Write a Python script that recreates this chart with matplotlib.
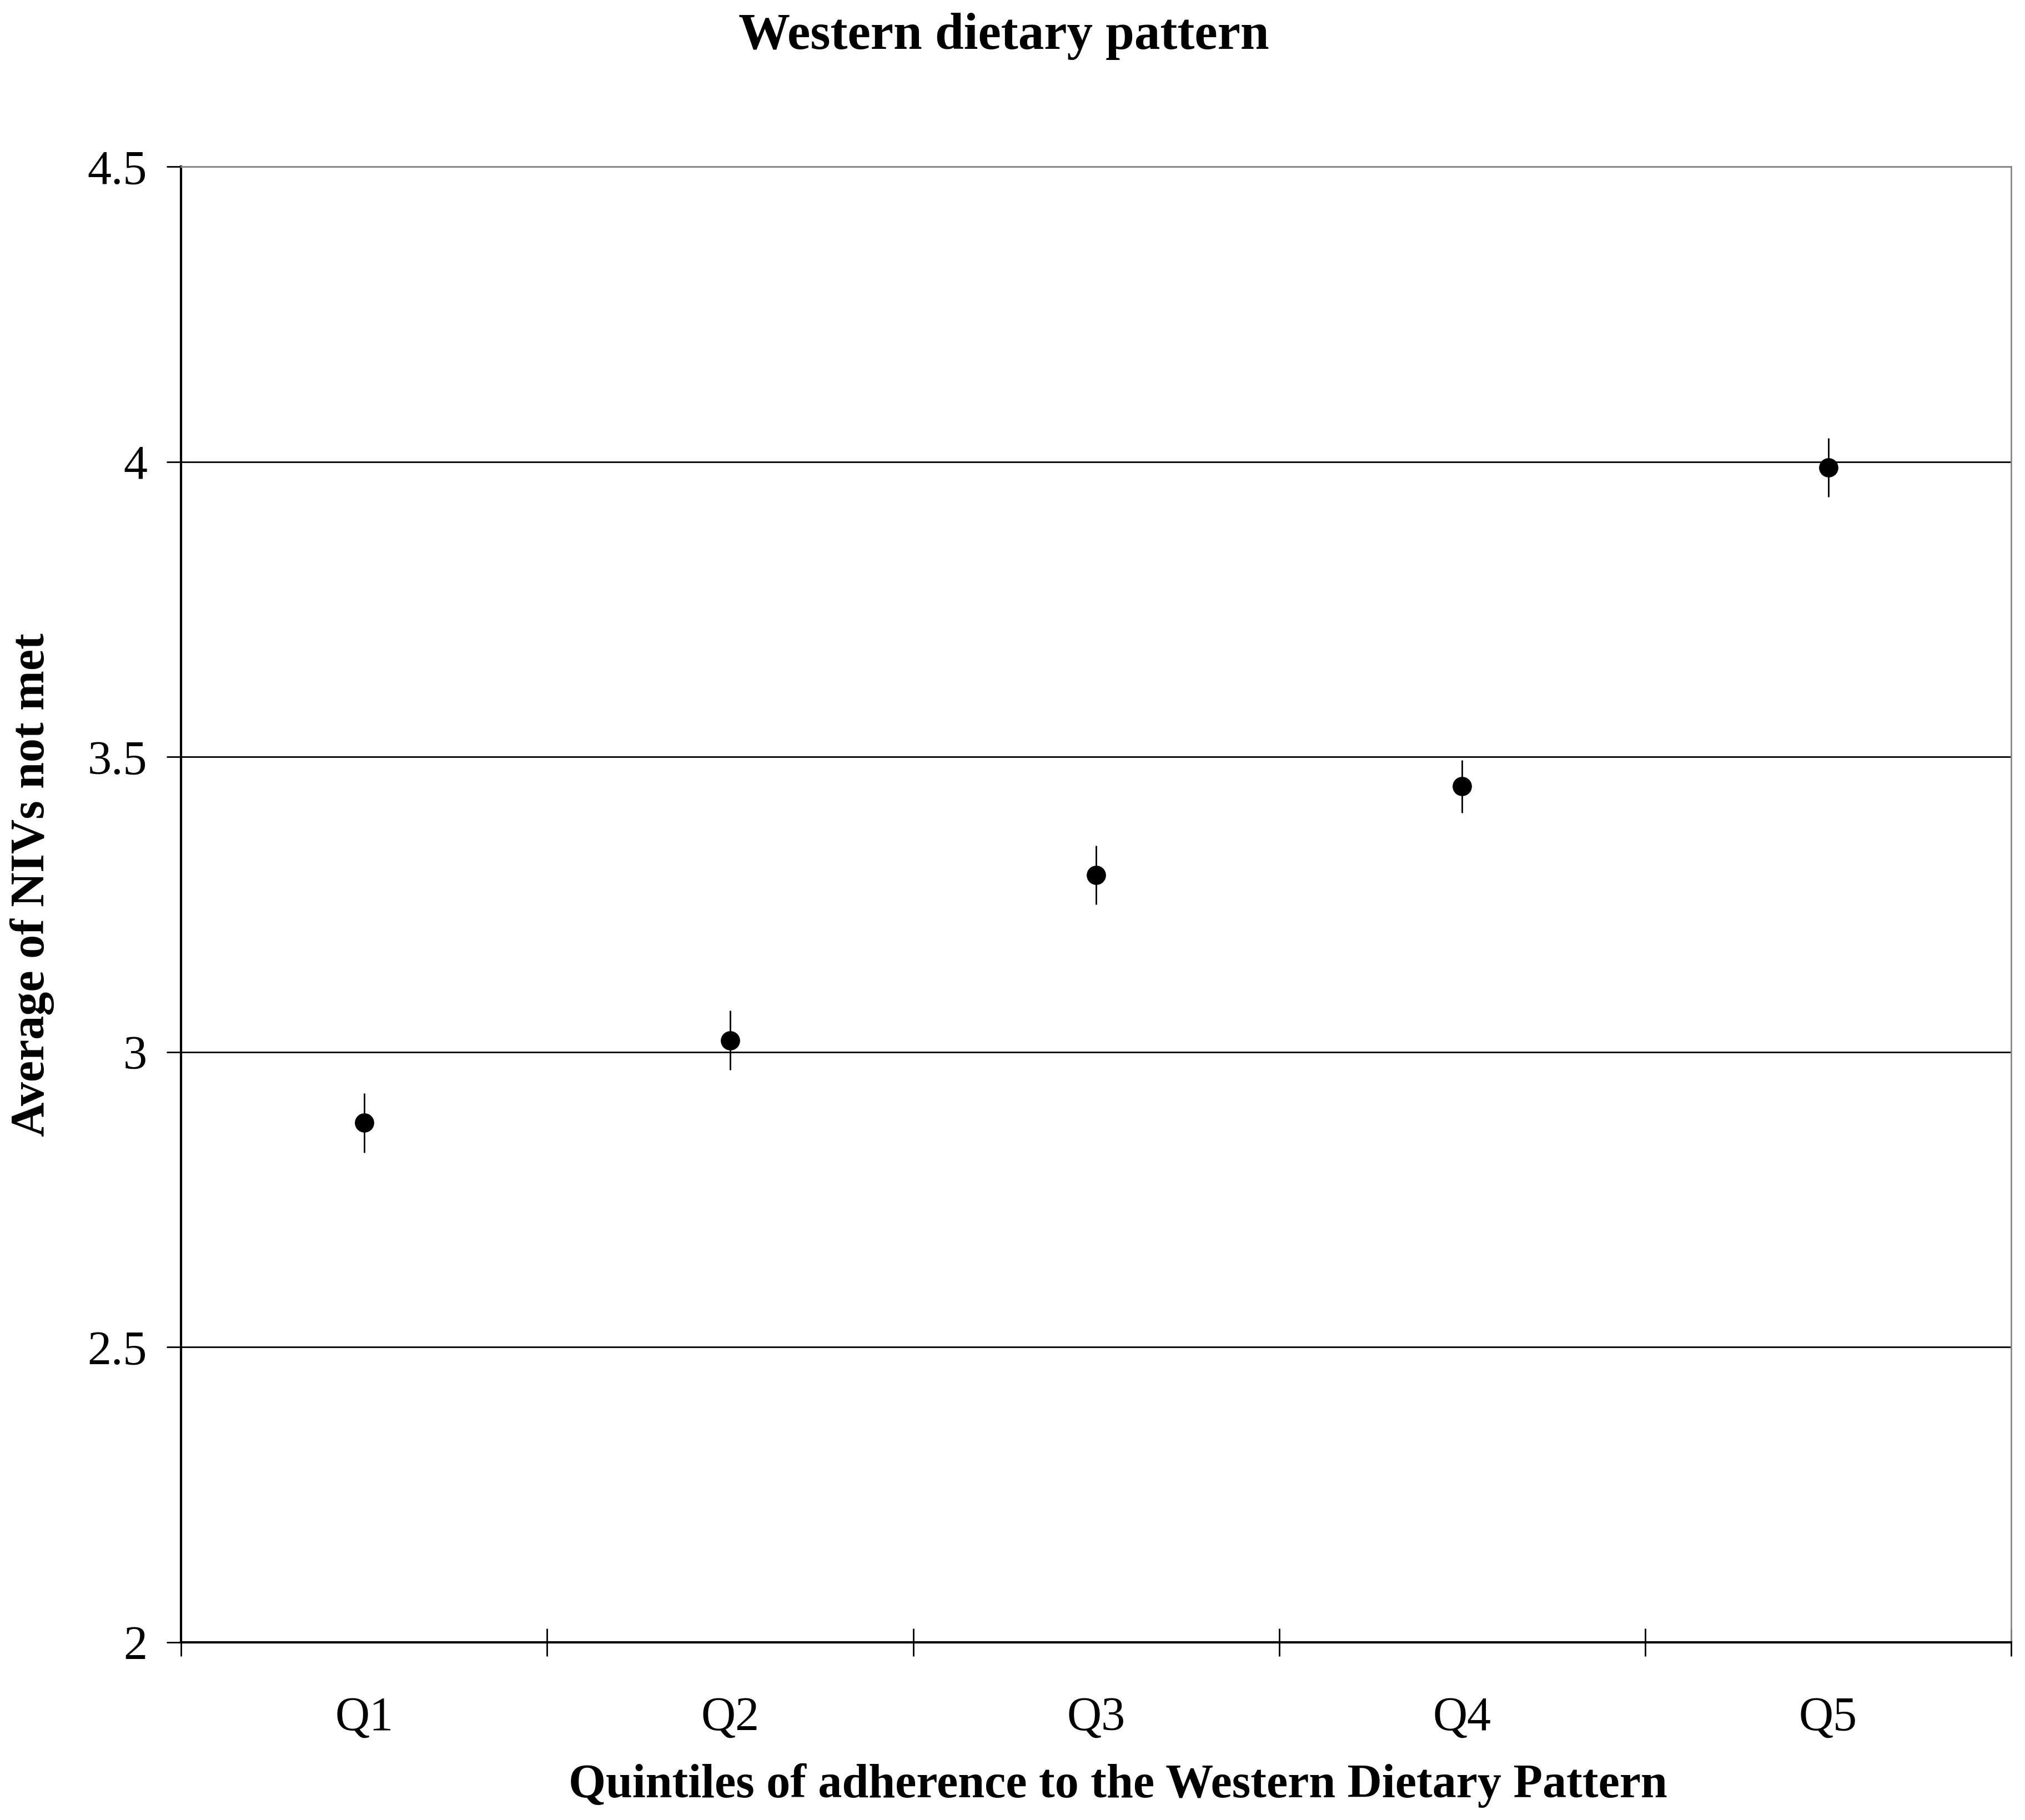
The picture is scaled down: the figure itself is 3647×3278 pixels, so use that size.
import matplotlib
matplotlib.use("Agg")
import matplotlib.pyplot as plt
import numpy as np

plt.rcParams["font.family"] = ["Liberation Serif", "DejaVu Serif"]

quintiles = ["Q1", "Q2", "Q3", "Q4", "Q5"]
mean_nivs = [2.88, 3.02, 3.30, 3.45, 3.99]
err_nivs = [0.05, 0.05, 0.05, 0.045, 0.05]

fig = plt.figure(figsize=(36.48, 32.78), dpi=100)
ax = fig.add_axes([0.0894, 0.0976, 0.9035, 0.8109])

x = np.arange(len(quintiles)) + 0.5
ax.errorbar(x, mean_nivs, yerr=err_nivs, fmt="o", color="black",
            markersize=24, elinewidth=2, capsize=0, zorder=3)

ax.set_xlim(0, len(quintiles))
ax.set_ylim(2, 4.5)
ax.set_yticks([2, 2.5, 3, 3.5, 4, 4.5])
ax.set_yticklabels(["2", "2.5", "3", "3.5", "4", "4.5"])
ax.set_xticks(np.arange(len(quintiles) + 1))
ax.set_xticklabels([])
ax.set_xticks(x, minor=True)
ax.set_xticklabels(quintiles, minor=True)

ax.grid(axis="y", color="black", linewidth=2)
ax.set_axisbelow(True)

ax.tick_params(axis="y", direction="out", length=19, width=2,
               labelsize=62, pad=25)
ax.tick_params(axis="x", which="major", direction="inout", length=36,
               width=2)
ax.tick_params(axis="x", which="minor", length=0, labelsize=62, pad=70)

for side in ["left", "bottom"]:
    ax.spines[side].set_color("black")
    ax.spines[side].set_linewidth(3)
for side in ["top", "right"]:
    ax.spines[side].set_color("#888888")
    ax.spines[side].set_linewidth(2)

fig.text(0.4955, 0.980, "Western dietary pattern", ha="center", va="center",
         fontsize=67, fontweight="bold")
fig.text(0.552, 0.019, "Quintiles of adherence to the Western Dietary Pattern",
         ha="center", va="center", fontsize=62, fontweight="bold")
fig.text(0.016, 0.514, "Average of NIVs not met", ha="center", va="center",
         rotation=90, fontsize=62, fontweight="bold")

fig.savefig("out.png", dpi=100, facecolor="white")
